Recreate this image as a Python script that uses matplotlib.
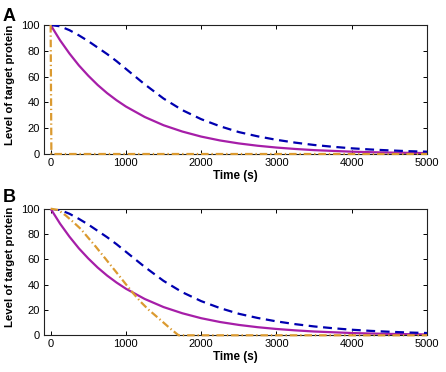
import matplotlib
matplotlib.use("Agg")
import matplotlib.pyplot as plt

plt.rcParams['font.family'] = ['Liberation Sans', 'DejaVu Sans']

# ---- data ----
t_grid = [0, 125, 250, 375, 500, 625, 750, 875, 1000, 1250, 1500, 1750, 2000,
          2250, 2500, 2750, 3000, 3250, 3500, 3750, 4000, 4250, 4500, 4750, 5000]

magenta_vals = [100, 88.2, 77.9, 68.7, 60.7, 53.5, 47.2, 41.7, 36.8, 28.7, 22.3,
                17.4, 13.5, 10.5, 8.2, 6.4, 5.0, 3.9, 3.0, 2.4, 1.8, 1.4, 1.1, 0.9, 0.7]

blue_vals = [100, 99.0, 96.0, 92.0, 87.5, 82.5, 77.5, 72.0, 66.0, 54.0, 43.0,
             34.0, 27.0, 21.5, 17.0, 13.7, 11.0, 8.8, 7.0, 5.6, 4.4, 3.5, 2.8, 2.2, 1.8]

orangeA_t = [0, 10, 5000]
orangeA_vals = [100, 0, 0]

orangeB_t = [0, 100, 200, 300, 400, 500, 600, 700, 800, 900, 1000, 1100, 1200,
             1300, 1400, 1500, 1600, 1700, 5000]
orangeB_vals = [100, 99.0, 94.7, 89.5, 84.0, 77.0, 70.0, 62.6, 55.2, 47.8, 40.3,
                33.0, 26.2, 20.3, 15.2, 10.0, 4.8, 0, 0]

x_ticks = [0, 1000, 2000, 3000, 4000, 5000]
y_ticks = [0, 20, 40, 60, 80, 100]
panel_letters = ['A', 'B']
xlabel = 'Time (s)'
ylabel = 'Level of target protein'

# ---- styling ----
c_mag = '#A61EA8'
c_blue = '#0000B0'
c_orange = '#DB9A30'

W, H = 446, 372
fig = plt.figure(figsize=(W / 100, H / 100), dpi=100)

def frac_rect(left, top, right, bottom):
    return [left / W, 1 - bottom / H, (right - left) / W, (bottom - top) / H]

axA = fig.add_axes(frac_rect(44, 25, 427, 154))
axB = fig.add_axes(frac_rect(44, 208.7, 427, 335.3))

for ax, (ot, ov), letter, base_py in [
        (axA, (orangeA_t, orangeA_vals), panel_letters[0], 21),
        (axB, (orangeB_t, orangeB_vals), panel_letters[1], 202.5)]:
    ax.plot(t_grid, magenta_vals, color=c_mag, lw=1.6, solid_capstyle='butt', zorder=3)
    ax.plot(t_grid, blue_vals, color=c_blue, lw=1.6, dashes=(4, 2.5), zorder=3)
    ax.plot(ot, ov, color=c_orange, lw=1.6, dashes=(3.4, 1.3, 0.6, 1.3),
            zorder=4, clip_on=False)
    ax.set_xlim(-88, 5000)
    ax.set_ylim(0, 100)
    ax.set_xticks(x_ticks)
    ax.set_yticks(y_ticks)
    ax.tick_params(direction='in', length=3, width=0.7, top=True, right=True,
                   labelsize=8, pad=3, colors='black')
    for s in ax.spines.values():
        s.set_linewidth(0.8)
        s.set_color('#222222')
    ax.set_xlabel(xlabel, fontsize=8.4, fontweight='bold', labelpad=1)
    ax.set_ylabel(ylabel, fontsize=8.2, fontweight='bold')
    ax.yaxis.set_label_coords(-0.075, 0.54)
    fig.text(3 / W, 1 - base_py / H, letter, fontsize=13, fontweight='bold',
             va='baseline', ha='left')

fig.savefig('out.png', dpi=100)
